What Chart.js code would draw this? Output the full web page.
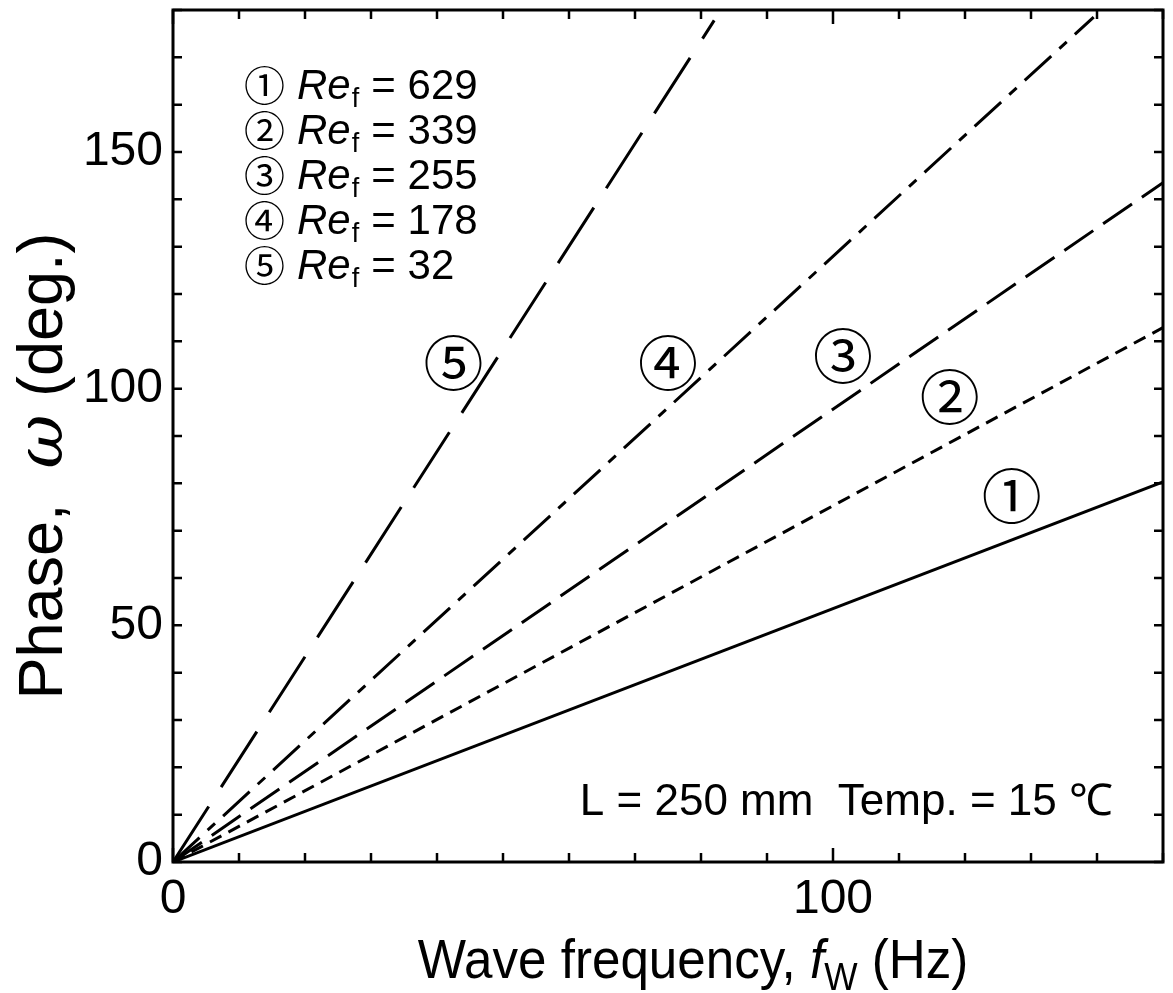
<!DOCTYPE html>
<html>
<head>
<meta charset="utf-8">
<script src="https://cdn.jsdelivr.net/npm/chart.js@4"></script>
<style>
  html, body { margin: 0; padding: 0; background: #fff; }
  #wrap { width: 1173px; height: 993px; }
</style>
</head>
<body>
<div id="wrap"><canvas id="phase-chart" width="1173" height="993"></canvas></div>
<script>
// DATI ----------------------------------------
var reNumbers = [629, 339, 255, 178, 32];
var marks = ['①', '②', '③', '④', '⑤'];
var startFreq = [0, 0, 0, 0, 0];
var startPhase = [0, 0, 0, 0, 0];
var endFreq = [150, 150, 150, 139.5, 82];
var endPhase = [80.3, 112.9, 143.5, 178.5, 177.8];
// posizione delle etichette cerchiate (Hz, deg.)
var markFreq = [127.1, 117.7, 101.5, 75, 42.5];
var markPhase = [77.2, 98.1, 106.8, 105.3, 105.3];
var xTickLabels = [0, 100];
var yTickLabels = [0, 50, 100, 150];

var dashes = [[], [13, 8], [35, 12], [36, 11, 10, 11], [66, 23]];
var FONT = '"Liberation Sans", Arial, sans-serif';
var CIRC = '"Noto Sans CJK JP", "DejaVu Sans", sans-serif';

var datasets = reNumbers.map(function(re, i){
  return {
    label: 'Re_f = ' + re,
    data: [{x: startFreq[i], y: startPhase[i]}, {x: endFreq[i], y: endPhase[i]}],
    borderColor: '#000',
    borderWidth: 3,
    borderDash: dashes[i],
    pointRadius: 0,
    showLine: true,
    fill: false
  };
});

// scrive pezzi di testo con font diversi uno dopo l'altro
function drawParts(c, parts, x0, y0){
  parts.forEach(function(p){
    c.font = p.f;
    c.fillText(p.t, x0, y0 + (p.dy || 0));
    x0 += c.measureText(p.t).width;
  });
}
function partsWidth(c, parts){
  var w = 0;
  parts.forEach(function(p){ c.font = p.f; w += c.measureText(p.t).width; });
  return w;
}

// PLUGIN: cornice, tacche interne, titoli, testi ----------------------------------------
var decor = {
  id: 'decor',
  afterDraw: function(chart){
    var c = chart.ctx;
    var a = chart.chartArea;
    var xs = chart.scales.x, ys = chart.scales.y;
    c.save();
    c.strokeStyle = '#000';
    c.fillStyle = '#000';
    c.lineWidth = 3;
    c.strokeRect(a.left, a.top, a.right - a.left, a.bottom - a.top);

    c.lineWidth = 2.5;
    xs.ticks.forEach(function(t){
      var px = xs.getPixelForValue(t.value);
      var len = (t.value % 100 === 0) ? 14 : 9;
      c.beginPath();
      c.moveTo(px, a.bottom); c.lineTo(px, a.bottom - len);
      c.moveTo(px, a.top); c.lineTo(px, a.top + len);
      c.stroke();
    });
    ys.ticks.forEach(function(t){
      var py = ys.getPixelForValue(t.value);
      var len = 9;
      c.beginPath();
      c.moveTo(a.left, py); c.lineTo(a.left + len, py);
      c.moveTo(a.right, py); c.lineTo(a.right - len, py);
      c.stroke();
    });

    c.textBaseline = 'alphabetic';
    c.textAlign = 'left';

    // titolo asse x
    var parts = [
      {t: 'Wave frequency, ', f: '55px ' + FONT},
      {t: 'f', f: 'italic 55px ' + FONT},
      {t: 'W', f: '38px ' + FONT, dy: 12},
      {t: ' (Hz)', f: '55px ' + FONT}
    ];
    c.save();
    c.translate(693, 978);
    c.scale(0.93, 1);
    drawParts(c, parts, -partsWidth(c, parts) / 2, 0);
    c.restore();

    // titolo asse y
    var yparts = [
      {t: 'Phase,  ', f: '63px ' + FONT},
      {t: 'ω', f: 'italic 66px "DejaVu Serif", serif'},
      {t: ' (deg.)', f: '63px ' + FONT}
    ];
    c.save();
    c.translate(62, 466);
    c.rotate(-Math.PI / 2);
    drawParts(c, yparts, -partsWidth(c, yparts) / 2, 0);
    c.restore();

    // legenda
    reNumbers.forEach(function(re, i){
      var by = 99 + i * 45;
      c.font = '41px ' + CIRC;
      c.fillText(marks[i], 244, by + 2);
      var bx = 297;
      c.font = 'italic 42px ' + FONT;
      c.fillText('Re', bx, by);
      bx += c.measureText('Re').width;
      c.font = '27px ' + FONT;
      c.fillText('f', bx + 1, by + 8);
      c.font = '42px ' + FONT;
      c.fillText(' = ' + re, bx + 9, by);
    });

    // etichette cerchiate sulle linee
    c.textAlign = 'center';
    c.textBaseline = 'middle';
    c.font = '60px ' + CIRC;
    marks.forEach(function(m, i){
      c.fillText(m, xs.getPixelForValue(markFreq[i]), ys.getPixelForValue(markPhase[i]));
    });

    // condizioni
    c.textAlign = 'right';
    c.textBaseline = 'alphabetic';
    c.font = '44px ' + FONT;
    c.fillText('L = 250 mm  Temp. = 15 \u2103', 1113, 815);
    c.restore();
  }
};

var ctx = document.getElementById('phase-chart');
var chart = new Chart(ctx, {
  type: 'scatter',
  data: { datasets: datasets },
  options: {
    responsive: false,
    animation: false,
    devicePixelRatio: 1,
    layout: { padding: { top: 10, right: 10, left: 0, bottom: 0 } },
    plugins: { legend: { display: false }, tooltip: { enabled: false } },
    scales: {
      x: {
        type: 'linear', min: 0, max: 150,
        grid: { display: false, drawTicks: false },
        border: { display: false },
        ticks: {
          stepSize: 10, autoSkip: false, maxRotation: 0, padding: 9,
          color: '#000', font: { size: 48, family: FONT },
          callback: function(v){ return xTickLabels.indexOf(v) >= 0 ? String(v) : ''; }
        },
        afterFit: function(s){ s.height = 131; s.paddingLeft = 0; s.paddingRight = 0; }
      },
      y: {
        type: 'linear', min: 0, max: 180,
        grid: { display: false, drawTicks: false },
        border: { display: false },
        ticks: {
          stepSize: 10, autoSkip: false, padding: 10,
          color: '#000', font: { size: 48, family: FONT },
          callback: function(v){ return yTickLabels.indexOf(v) >= 0 ? String(v) : ''; }
        },
        afterFit: function(s){ s.width = 173; s.paddingTop = 0; s.paddingBottom = 0; }
      }
    }
  },
  plugins: [decor]
});
</script>
</body>
</html>
